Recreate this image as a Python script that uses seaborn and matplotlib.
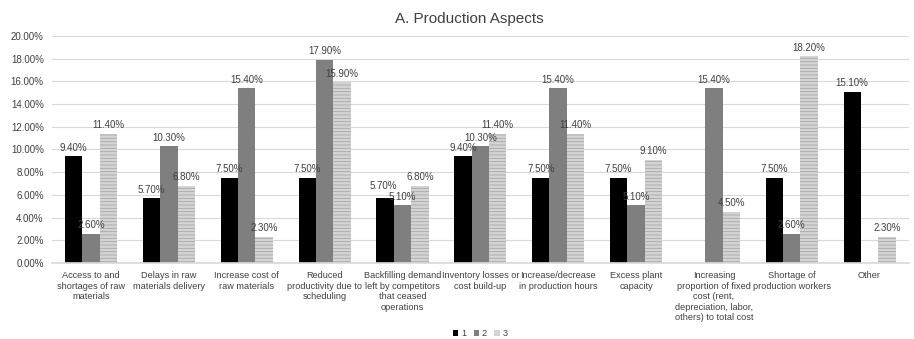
import numpy as np
import pandas as pd
import matplotlib
matplotlib.use("Agg")
import matplotlib.pyplot as plt
import seaborn as sns

categories = [
    "Access to and\nshortages of raw\nmaterials",
    "Delays in raw\nmaterials delivery",
    "Increase cost of\nraw materials",
    "Reduced\nproductivity due to\nscheduling",
    "Backfilling demand\nleft by competitors\nthat ceased\noperations",
    "Inventory losses or\ncost build-up",
    "Increase/decrease\nin production hours",
    "Excess plant\ncapacity",
    "Increasing\nproportion of fixed\ncost (rent,\ndepreciation, labor,\nothers) to total cost",
    "Shortage of\nproduction workers",
    "Other",
]
series_names = ["1", "2", "3"]
values_1 = [9.4, 5.7, 7.5, 7.5, 5.7, 9.4, 7.5, 7.5, np.nan, 7.5, 15.1]
values_2 = [2.6, 10.3, 15.4, 17.9, 5.1, 10.3, 15.4, 5.1, 15.4, 2.6, np.nan]
values_3 = [11.4, 6.8, 2.3, 15.9, 6.8, 11.4, 11.4, 9.1, 4.5, 18.2, 2.3]
yticks = [0, 2, 4, 6, 8, 10, 12, 14, 16, 18, 20]

sns.set_theme(style="white")
plt.rcParams["font.family"] = ["Liberation Sans", "DejaVu Sans"]
plt.rcParams["hatch.color"] = "#a8a8a8"
plt.rcParams["hatch.linewidth"] = 0.6

df = pd.DataFrame({
    "category": categories * 3,
    "series": sum([[s] * len(categories) for s in series_names], []),
    "value": values_1 + values_2 + values_3,
})

fig = plt.figure(figsize=(9.14, 3.39), dpi=100)
ax = fig.add_axes([0.057, 0.224, 0.937, 0.670])

palette = {"1": "#000000", "2": "#7f7f7f", "3": "#d4d4d4"}
sns.barplot(data=df, x="category", y="value", hue="series", order=categories,
            hue_order=series_names, palette=palette, width=0.67, saturation=1,
            ax=ax, legend=True, linewidth=0)

pad = 2.5
for container, name in zip(ax.containers, series_names):
    if name == "3":
        for bar in container:
            bar.set_hatch("-----")
            bar.set_edgecolor("#a8a8a8")
            bar.set_linewidth(0)
    labels = ["" if np.isnan(v) else f"{v:.2f}%" for v in container.datavalues]
    texts = ax.bar_label(container, labels=labels, padding=pad, fontsize=7,
                         color="#404040")
    if name == "1":
        # lift the "Backfilling" label clear of its neighbour
        texts[4].xyann = (-1, pad + 3)

ax.set_ylim(0, 20)
ax.set_yticks(yticks)
ax.set_yticklabels([f"{t:.2f}%" for t in yticks], fontsize=7, color="#404040")
ax.tick_params(axis="x", labelsize=6.6, labelcolor="#404040", length=0, pad=6)
ax.tick_params(axis="y", length=0, pad=6)
ax.set_xlabel("")
ax.set_ylabel("")
ax.set_xlim(-0.5, len(categories) - 0.5)
ax.yaxis.grid(True, color="#d9d9d9", linewidth=0.8)
ax.set_axisbelow(True)
for side in ["top", "right", "left"]:
    ax.spines[side].set_visible(False)
ax.spines["bottom"].set_color("#d9d9d9")

fig.suptitle("A. Production Aspects", x=0.513, y=0.965, fontsize=11, color="#404040")

handles, labels = ax.get_legend_handles_labels()
ax.legend(handles, labels, loc="lower center", bbox_to_anchor=(0.5, -0.36),
          ncol=3, frameon=False, fontsize=6.6, handlelength=0.6, handleheight=0.6,
          handletextpad=0.3, columnspacing=0.8, labelcolor="#404040",
          borderpad=0.2)

fig.savefig("out.png", dpi=100)
